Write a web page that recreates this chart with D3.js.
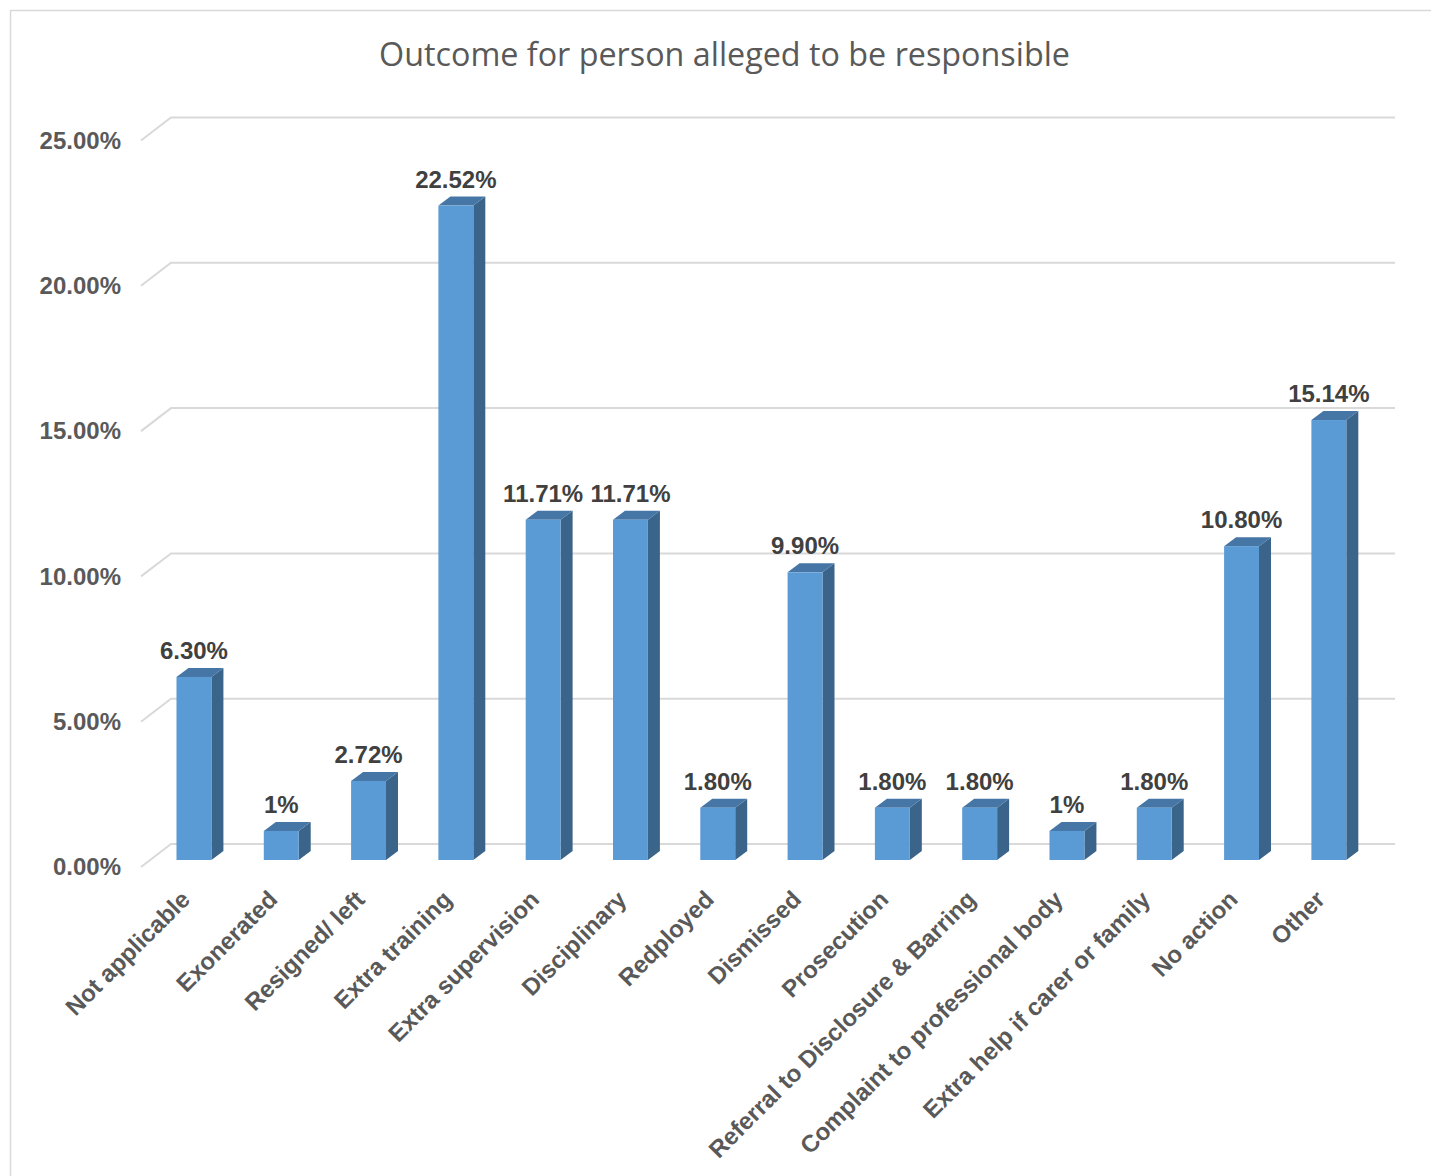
<!DOCTYPE html>
<html>
<head>
<meta charset="utf-8">
<script src="https://cdn.jsdelivr.net/npm/d3@7"></script>
<style>
  html, body { margin: 0; padding: 0; background: #ffffff; }
  svg { display: block; }
</style>
</head>
<body>
<svg id="chart" width="1431" height="1176"></svg>
<script>
// ---- Data ----
const chartTitle = "Outcome for person alleged to be responsible";
const categories = [
  "Not applicable", "Exonerated", "Resigned/ left", "Extra training",
  "Extra supervision", "Disciplinary", "Redployed", "Dismissed",
  "Prosecution", "Referral to Disclosure & Barring",
  "Complaint to professional body", "Extra help if carer or family",
  "No action", "Other"
];
const values = [6.30, 1.00, 2.72, 22.52, 11.71, 11.71, 1.80, 9.90, 1.80, 1.80, 1.00, 1.80, 10.80, 15.14];
const valueLabels = ["6.30%", "1%", "2.72%", "22.52%", "11.71%", "11.71%", "1.80%", "9.90%", "1.80%", "1.80%", "1%", "1.80%", "10.80%", "15.14%"];
const tickValues = [0, 5, 10, 15, 20, 25];
const tickLabels = ["0.00%", "5.00%", "10.00%", "15.00%", "20.00%", "25.00%"];

// ---- Layout ----
const svg = d3.select("#chart");
const FONT = "'Liberation Sans', Arial, sans-serif";

// frame
svg.append("rect")
  .attr("x", 10.5).attr("y", 10.5).attr("width", 1440).attr("height", 1200)
  .attr("fill", "#ffffff").attr("stroke", "#d9d9d9").attr("stroke-width", 1.5);

// scales (bar front plane)
const x = d3.scaleBand().domain(categories).range([150.3, 1372.5])
  .paddingInner(0.6).paddingOuter(0.3);
const y = d3.scaleLinear().domain([0, 25]).range([860, 860 - 25 * 29.06]);

// 3D offsets
const frontOff = { dx: -9, dy: 7 };     // front of floor relative to bar plane
const backOff = { dx: 21, dy: -16 };    // back wall relative to bar plane
const barDepth = { dx: 12, dy: -9 };
const floorLeftFront = 141;
const wallRight = 1395;

// gridlines
const grid = svg.append("g");
tickValues.forEach(v => {
  const yf = y(v) + frontOff.dy;
  const yb = y(v) + backOff.dy;
  const xb = floorLeftFront + (backOff.dx - frontOff.dx);
  grid.append("path")
    .attr("d", `M${floorLeftFront},${yf} L${xb},${yb} L${wallRight},${yb}`)
    .attr("fill", "none").attr("stroke", "#d9d9d9").attr("stroke-width", 2);
});

// y axis labels
const yFront = d3.scaleLinear().domain(y.domain()).range(y.range().map(r => r + frontOff.dy));
const yAxis = d3.axisLeft(yFront).tickValues(tickValues)
  .tickFormat((d, i) => tickLabels[i]).tickSize(0).tickPadding(0);
const ag = svg.append("g").attr("transform", "translate(121,0)").call(yAxis);
ag.select(".domain").remove();
ag.selectAll("text")
  .attr("font-family", FONT).attr("font-size", 24).attr("font-weight", "bold")
  .attr("fill", "#595959");

// bars
const bars = svg.append("g");
const bw = x.bandwidth();
categories.forEach((c, i) => {
  const x0 = x(c), x1 = x0 + bw;
  const yt = y(values[i]), yb = y(0);
  const g = bars.append("g");
  // side
  g.append("path")
    .attr("d", `M${x1},${yt} L${x1 + barDepth.dx},${yt + barDepth.dy} L${x1 + barDepth.dx},${yb + barDepth.dy} L${x1},${yb} Z`)
    .attr("fill", "#3a6489");
  // top
  g.append("path")
    .attr("d", `M${x0},${yt} L${x1},${yt} L${x1 + barDepth.dx},${yt + barDepth.dy} L${x0 + barDepth.dx},${yt + barDepth.dy} Z`)
    .attr("fill", "#4676a6");
  // front
  g.append("rect")
    .attr("x", x0).attr("y", yt).attr("width", bw).attr("height", yb - yt)
    .attr("fill", "#5b9bd5");
  // value label
  g.append("text")
    .attr("x", x0 + bw / 2).attr("y", yt - 18)
    .attr("text-anchor", "middle")
    .attr("font-family", FONT).attr("font-size", 24).attr("font-weight", "bold")
    .attr("fill", "#404040")
    .text(valueLabels[i]);
});

// x labels
const xl = svg.append("g");
categories.forEach(c => {
  const cx = x(c) + bw / 2 - 2.5;
  const cy = 901;
  xl.append("text")
    .attr("transform", `translate(${cx},${cy}) rotate(-45)`)
    .attr("text-anchor", "end")
    .attr("font-family", FONT).attr("font-size", 24).attr("font-weight", "bold")
    .attr("fill", "#595959")
    .text(c);
});

// title
const title = svg.append("text")
  .attr("x", 724.5).attr("y", 66)
  .attr("text-anchor", "middle")
  .attr("font-family", "'Open Sans', 'Noto Sans', sans-serif")
  .attr("font-size", 100)
  .attr("fill", "#595959")
  .text(chartTitle);
const w100 = title.node().getComputedTextLength();
title.attr("font-size", 100 * 691 / w100);
</script>
</body>
</html>
